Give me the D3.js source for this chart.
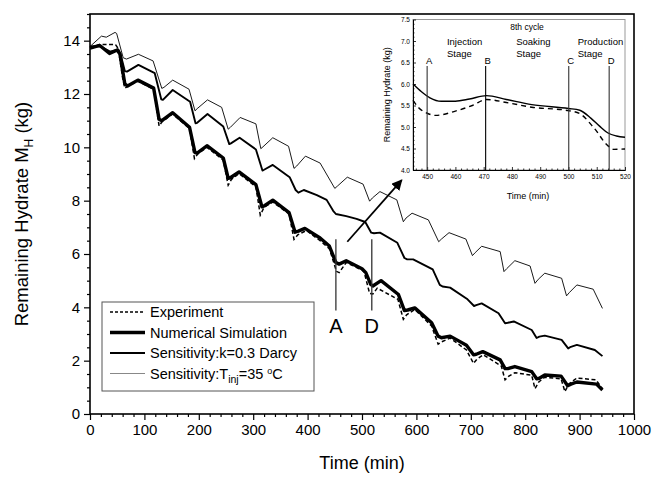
<!DOCTYPE html>
<html>
<head>
<meta charset="utf-8">
<script src="https://cdn.jsdelivr.net/npm/d3@7"></script>
<style>
  body { margin: 0; background: #fff; }
  text { font-family: Arial, "Liberation Sans", sans-serif; fill: #000; }
</style>
</head>
<body>
<div id="chart"></div>
<script>
// data: [time (min), remaining hydrate (kg)]
let experiment = [[0,13.75],[10,13.8],[18,13.86],[47,13.85],[52,13.7],[60,12.6],[64,12.22],[70,12.3],[88,12.48],[117,12.18],[127,10.8],[132,10.95],[152,11.25],[183,10.7],[192,9.58],[198,9.75],[215,10.0],[245,9.52],[254,8.58],[260,8.8],[274,9.02],[305,8.52],[313,7.46],[320,7.75],[336,7.95],[366,7.5],[375,6.55],[382,6.72],[398,6.88],[423,6.5],[440,6.2],[447,5.75],[453,5.35],[458,5.3],[471,5.68],[500,5.4],[504,5.32],[514,4.52],[520,4.5],[528,4.72],[566,4.3],[576,3.55],[582,3.72],[597,3.92],[628,3.3],[640,2.62],[646,2.7],[662,2.85],[692,2.4],[705,1.9],[711,2.05],[723,2.22],[756,1.8],[763,1.28],[770,1.42],[781,1.55],[812,1.45],[818,0.95],[825,1.2],[836,1.38],[866,1.32],[873,0.84],[880,1.12],[895,1.35],[930,1.28],[942,0.95]];
let simulation = [[0,13.72],[18,13.82],[36,13.52],[50,13.65],[55,13.5],[64,12.38],[69,12.3],[88,12.52],[117,12.22],[127,11.05],[132,11.0],[152,11.3],[183,10.75],[193,9.8],[197,9.78],[215,10.06],[245,9.6],[254,8.84],[258,8.86],[274,9.08],[305,8.6],[316,7.77],[320,7.8],[336,8.02],[366,7.55],[377,6.82],[383,6.86],[395,6.96],[423,6.6],[440,6.3],[452,5.68],[458,5.62],[471,5.75],[500,5.45],[507,5.3],[516,4.86],[520,4.8],[535,5.0],[567,4.48],[578,3.88],[584,3.9],[597,3.98],[628,3.42],[640,2.92],[646,2.86],[662,2.92],[692,2.58],[705,2.22],[710,2.24],[722,2.34],[754,2.03],[763,1.7],[768,1.7],[781,1.78],[812,1.59],[821,1.32],[826,1.34],[836,1.46],[866,1.42],[878,1.06],[884,1.12],[895,1.2],[931,1.12],[942,0.9]];
let sensK = [[0,13.78],[18,13.8],[37,13.59],[52,13.67],[56,13.5],[64,12.86],[68,12.84],[89,13.09],[119,12.78],[131,11.8],[134,11.78],[152,12.15],[184,11.71],[194,10.9],[197,10.92],[216,11.25],[245,10.78],[256,10.12],[259,10.15],[275,10.36],[305,9.92],[317,9.13],[320,9.16],[336,9.34],[367,8.88],[378,8.4],[383,8.3],[393,8.4],[417,8.21],[435,8.03],[447,7.62],[452,7.5],[471,7.42],[490,7.32],[506,7.2],[517,6.8],[522,6.78],[533,6.8],[565,6.42],[578,5.85],[583,5.8],[594,5.8],[630,5.42],[643,4.84],[648,4.78],[662,4.74],[694,4.3],[706,4.05],[710,4.08],[720,4.15],[751,3.78],[763,3.4],[768,3.42],[779,3.47],[812,3.15],[821,2.85],[826,2.9],[836,2.94],[867,2.78],[879,2.46],[884,2.52],[895,2.59],[928,2.4],[942,2.17]];
let sensT = [[0,13.78],[21,14.17],[30,14.13],[46,14.31],[49,14.27],[61,13.36],[67,13.31],[89,13.49],[116,13.24],[132,12.21],[136,12.25],[152,12.52],[182,12.18],[193,11.37],[197,11.45],[216,11.78],[242,11.5],[254,10.68],[258,10.75],[276,11.12],[305,10.88],[314,9.95],[318,10.02],[336,10.36],[365,10.04],[375,9.21],[380,9.3],[396,9.67],[423,9.41],[450,8.46],[455,8.55],[473,8.88],[502,8.62],[514,7.98],[519,8.1],[533,8.34],[564,8.03],[576,7.21],[581,7.35],[592,7.53],[622,7.28],[641,6.46],[646,6.56],[660,6.8],[691,6.56],[703,5.94],[708,6.05],[720,6.29],[754,6.09],[761,5.34],[766,5.45],[781,5.75],[809,5.55],[818,4.9],[824,5.05],[836,5.28],[867,5.09],[876,4.43],[881,4.55],[895,4.84],[925,4.68],[942,3.96]];

// inset: 8th cycle
let insetSim = [[445,6.0],[448,5.82],[451,5.68],[455,5.6],[460,5.6],[465,5.65],[471,5.73],[478,5.64],[487,5.52],[500,5.43],[504,5.39],[508,5.2],[511,5.02],[514,4.86],[517,4.79],[520,4.76]];
let insetExp = [[445,5.62],[447,5.45],[450,5.32],[453,5.27],[460,5.37],[466,5.5],[471,5.64],[478,5.57],[487,5.46],[500,5.38],[504,5.31],[509,4.98],[514,4.56],[516,4.48],[520,4.49]];
let stageMarks = [{name: "A", t: 450}, {name: "B", t: 470.7}, {name: "C", t: 500.1}, {name: "D", t: 514.4}];
let stageLabels = [{t: 457, lines: ["Injection", "Stage"]}, {t: 481.5, lines: ["Soaking", "Stage"]}, {t: 503.3, lines: ["Production", "Stage"]}];

// main chart marks A and D, and the arrow pointing to the inset
let mainMarks = [{name: "A", t: 452}, {name: "D", t: 518}];
let arrowFrom = [473, 6.46], arrowTo = [573, 8.77];

let xTicks = d3.range(0, 1001, 100);
let yTicks = d3.range(0, 15, 2);

let width = 654, height = 477;
let margin = {top: 14, right: 20, bottom: 63, left: 90};

let x = d3.scaleLinear().domain([0, 1000]).range([margin.left, width - margin.right]);
let y = d3.scaleLinear().domain([0, 15]).range([height - margin.bottom, margin.top]);

let svg = d3.select("#chart").append("svg")
    .attr("width", width)
    .attr("height", height);

// axes with outward ticks
svg.append("g")
    .attr("transform", "translate(0," + y(0) + ")")
    .call(d3.axisBottom(x).tickValues(xTicks).tickSize(6).tickPadding(4).tickFormat(d3.format("d")));
svg.append("g")
    .attr("transform", "translate(0," + y(0) + ")")
    .call(d3.axisBottom(x).tickValues(d3.range(0, 1001, 20).filter(d => d % 100)).tickSize(3).tickFormat(""));
svg.append("g")
    .attr("transform", "translate(" + x(0) + ",0)")
    .call(d3.axisLeft(y).tickValues(yTicks).tickSize(6).tickPadding(4));
svg.append("g")
    .attr("transform", "translate(" + x(0) + ",0)")
    .call(d3.axisLeft(y).tickValues(d3.range(0, 15.01, 0.5).filter(d => d % 2)).tickSize(3).tickFormat(""));

svg.selectAll(".domain").remove();
svg.selectAll(".tick line").attr("stroke", "#000").attr("stroke-width", 1.2);
svg.selectAll(".tick text").style("font-size", "15px").style("font-family", "Arial, 'Liberation Sans', sans-serif");

// plot frame
svg.append("rect")
    .attr("x", x(0)).attr("y", y(15))
    .attr("width", x(1000) - x(0)).attr("height", y(0) - y(15))
    .attr("fill", "none").attr("stroke", "#000").attr("stroke-width", 1.6);

// lines
let line = d3.line()
    .x(d => x(d[0]))
    .y(d => y(d[1]));

svg.append("path").datum(sensT).attr("d", line)
    .attr("fill", "none").attr("stroke", "#000").attr("stroke-width", 0.9).attr("stroke-linejoin", "round");
svg.append("path").datum(sensK).attr("d", line)
    .attr("fill", "none").attr("stroke", "#000").attr("stroke-width", 1.9).attr("stroke-linejoin", "round");
svg.append("path").datum(experiment).attr("d", line)
    .attr("fill", "none").attr("stroke", "#000").attr("stroke-width", 1.5).attr("stroke-dasharray", "4,2.5");
svg.append("path").datum(simulation).attr("d", line)
    .attr("fill", "none").attr("stroke", "#000").attr("stroke-width", 3.4).attr("stroke-linejoin", "round");

// A / D marks
mainMarks.forEach(function(m) {
    svg.append("line")
        .attr("x1", x(m.t)).attr("x2", x(m.t))
        .attr("y1", y(3.88)).attr("y2", y(6.55))
        .attr("stroke", "#333").attr("stroke-width", 1.3);
    svg.append("text")
        .attr("x", x(m.t)).attr("y", y(3.88) + 22)
        .attr("text-anchor", "middle")
        .style("font-size", "20px")
        .text(m.name);
});

// arrow
svg.append("defs").append("marker")
    .attr("id", "arrowhead")
    .attr("viewBox", "0 0 10 10")
    .attr("refX", 9).attr("refY", 5)
    .attr("markerWidth", 6).attr("markerHeight", 6)
    .attr("markerUnits", "strokeWidth")
    .attr("orient", "auto")
    .append("path").attr("d", "M0,0L10,5L0,10z").attr("fill", "#000");
svg.append("line")
    .attr("x1", x(arrowFrom[0])).attr("y1", y(arrowFrom[1]))
    .attr("x2", x(arrowTo[0])).attr("y2", y(arrowTo[1]))
    .attr("stroke", "#000").attr("stroke-width", 1.8)
    .attr("marker-end", "url(#arrowhead)");

// axis titles
svg.append("text")
    .attr("x", (x(0) + x(1000)) / 2).attr("y", 469)
    .attr("text-anchor", "middle")
    .style("font-size", "18px")
    .text("Time (min)");
let yl = svg.append("text")
    .attr("transform", "translate(28," + (y(0) + y(15)) / 2 + ") rotate(-90)")
    .attr("text-anchor", "middle")
    .style("font-size", "18.5px");
yl.append("tspan").text("Remaining Hydrate M");
yl.append("tspan").attr("dy", 5).style("font-size", "12px").text("H");
yl.append("tspan").attr("dy", -5).text(" (kg)");

// legend
let legend = svg.append("g");
legend.append("rect")
    .attr("x", 102).attr("y", 302).attr("width", 212).attr("height", 89)
    .attr("fill", "#fff").attr("stroke", "#555").attr("stroke-width", 1);
let legendItems = [
    {w: 1.5, dash: "3,2", color: "#000"},
    {w: 3.4, dash: null, color: "#000"},
    {w: 1.9, dash: null, color: "#000"},
    {w: 1, dash: null, color: "#888"}
];
legendItems.forEach(function(d, i) {
    let ly = 312 + i * 20.5;
    legend.append("line")
        .attr("x1", 110).attr("x2", 145).attr("y1", ly).attr("y2", ly)
        .attr("stroke", d.color).attr("stroke-width", d.w)
        .attr("stroke-dasharray", d.dash);
});
let legendText = legend.selectAll(".lt").data([0, 1, 2, 3]).enter().append("text")
    .attr("x", 150).attr("y", d => 317 + d * 20.5)
    .style("font-size", "14.5px");
legendText.filter(d => d == 0).text("Experiment");
legendText.filter(d => d == 1).text("Numerical Simulation");
legendText.filter(d => d == 2).text("Sensitivity:k=0.3 Darcy");
let lt4 = legendText.filter(d => d == 3);
lt4.append("tspan").text("Sensitivity:T");
lt4.append("tspan").attr("dy", 4).style("font-size", "10.5px").text("inj");
lt4.append("tspan").attr("dy", -4).text("=35 ");
lt4.append("tspan").attr("dy", -5).style("font-size", "9px").text("o");
lt4.append("tspan").attr("dy", 5).text("C");

// ---- inset ----
let ix = d3.scaleLinear().domain([445, 520]).range([413, 625]);
let iy = d3.scaleLinear().domain([4, 7.5]).range([170, 19.5]);
let inset = svg.append("g");

inset.append("rect")
    .attr("x", ix(445)).attr("y", iy(7.5))
    .attr("width", ix(520) - ix(445)).attr("height", iy(4) - iy(7.5))
    .attr("fill", "#fff").attr("stroke", "#999").attr("stroke-width", 1);

inset.append("g")
    .attr("transform", "translate(0," + iy(4) + ")")
    .call(d3.axisBottom(ix).tickValues(d3.range(450, 521, 10)).tickSizeInner(-3).tickSizeOuter(0).tickPadding(4));
inset.append("g")
    .attr("transform", "translate(0," + iy(4) + ")")
    .call(d3.axisBottom(ix).tickValues(d3.range(446, 521, 2).filter(d => d % 10)).tickSizeInner(-1.5).tickSizeOuter(0).tickFormat(""));
inset.append("g")
    .attr("transform", "translate(" + ix(445) + ",0)")
    .call(d3.axisLeft(iy).tickValues(d3.range(4, 7.51, 0.5)).tickSizeInner(-3).tickSizeOuter(0).tickPadding(3).tickFormat(d3.format(".1f")));
inset.append("g")
    .attr("transform", "translate(" + ix(445) + ",0)")
    .call(d3.axisLeft(iy).tickValues(d3.range(4.1, 7.5, 0.1).filter(d => Math.abs(d * 2 - Math.round(d * 2)) > 0.01)).tickSizeInner(-1.5).tickSizeOuter(0).tickFormat(""));
inset.selectAll(".domain").attr("stroke", "#000").attr("stroke-width", 1);
inset.selectAll(".tick line").attr("stroke", "#000").attr("stroke-width", 0.8);
inset.selectAll(".tick text").style("font-size", "6.5px").style("font-family", "Arial, 'Liberation Sans', sans-serif");

let iline = d3.line()
    .x(d => ix(d[0]))
    .y(d => iy(d[1]))
    .curve(d3.curveMonotoneX);
inset.append("path").datum(insetExp).attr("d", iline)
    .attr("fill", "none").attr("stroke", "#000").attr("stroke-width", 1.4).attr("stroke-dasharray", "5,4");
inset.append("path").datum(insetSim).attr("d", iline)
    .attr("fill", "none").attr("stroke", "#000").attr("stroke-width", 1.4);

stageMarks.forEach(function(m) {
    inset.append("line")
        .attr("x1", ix(m.t)).attr("x2", ix(m.t))
        .attr("y1", iy(4)).attr("y2", iy(6.42))
        .attr("stroke", m.name == "B" ? "#000" : "#333").attr("stroke-width", 1.1);
    inset.append("text")
        .attr("x", ix(m.t) + 2).attr("y", iy(6.42) - 1.5)
        .attr("text-anchor", "middle")
        .style("font-size", "9.5px")
        .text(m.name);
});
stageLabels.forEach(function(s) {
    s.lines.forEach(function(l, i) {
        inset.append("text")
            .attr("x", ix(s.t)).attr("y", 45 + i * 12)
            .style("font-size", "9.5px")
            .text(l);
    });
});
inset.append("text")
    .attr("x", 527).attr("y", 29.5)
    .attr("text-anchor", "middle")
    .style("font-size", "8.5px")
    .text("8th cycle");
inset.append("text")
    .attr("x", (ix(445) + ix(520)) / 2 + 9).attr("y", 199)
    .attr("text-anchor", "middle")
    .style("font-size", "9px")
    .text("Time (min)");
inset.append("text")
    .attr("transform", "translate(390," + (iy(4) + iy(7.5)) / 2 + ") rotate(-90)")
    .attr("text-anchor", "middle")
    .style("font-size", "9px")
    .text("Remaining Hydrate (kg)");
</script>
</body>
</html>
